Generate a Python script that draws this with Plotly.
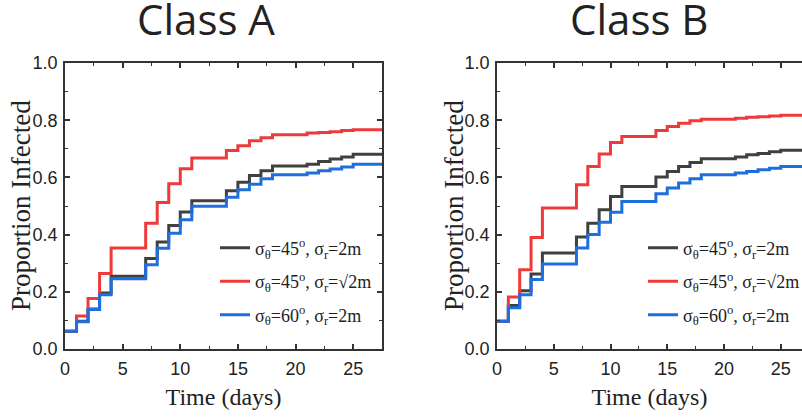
import plotly.graph_objects as go

# ---- data ----
step_days = [0, 1, 2, 3, 4, 7, 8, 9, 10, 11, 14, 15, 16, 17, 18, 21, 22, 23, 24, 25]

a_black = [0.062, 0.097, 0.140, 0.196, 0.254, 0.316, 0.374, 0.432, 0.479, 0.518,
           0.553, 0.583, 0.607, 0.623, 0.640, 0.646, 0.656, 0.664, 0.671, 0.681]
a_red = [0.062, 0.115, 0.177, 0.264, 0.353, 0.440, 0.512, 0.578, 0.630, 0.668,
         0.694, 0.711, 0.728, 0.739, 0.749, 0.755, 0.757, 0.760, 0.764, 0.767]
a_blue = [0.062, 0.095, 0.138, 0.190, 0.246, 0.295, 0.352, 0.405, 0.452, 0.499,
          0.531, 0.557, 0.576, 0.595, 0.609, 0.615, 0.623, 0.629, 0.636, 0.646]

b_black = [0.097, 0.152, 0.204, 0.262, 0.336, 0.392, 0.440, 0.487, 0.533, 0.568,
           0.601, 0.621, 0.638, 0.652, 0.665, 0.671, 0.679, 0.684, 0.690, 0.695]
b_red = [0.097, 0.182, 0.277, 0.390, 0.493, 0.574, 0.638, 0.682, 0.722, 0.743,
         0.764, 0.778, 0.789, 0.798, 0.803, 0.807, 0.810, 0.812, 0.815, 0.817]
b_blue = [0.097, 0.144, 0.190, 0.243, 0.297, 0.353, 0.400, 0.443, 0.478, 0.516,
          0.543, 0.563, 0.580, 0.595, 0.609, 0.615, 0.621, 0.627, 0.632, 0.638]

series_names = [
    "σ<sub>θ</sub>=45<sup>o</sup>, σ<sub>r</sub>=2m",
    "σ<sub>θ</sub>=45<sup>o</sup>, σ<sub>r</sub>=√2m",
    "σ<sub>θ</sub>=60<sup>o</sup>, σ<sub>r</sub>=2m",
]
colors = ["#404040", "#EE3A3A", "#1F6EDD"]
panel_titles = ["Class A", "Class B"]
x_title = "Time (days)"
y_title = "Proportion Infected"
x_ticks = [0, 5, 10, 15, 20, 25]
y_ticks = [0.0, 0.2, 0.4, 0.6, 0.8, 1.0]
end_day = 28  # hold last value to the end of the axis

W, H = 802, 417
fig = go.Figure()

panels = [
    ([a_black, a_red, a_blue], "x", "y", "legend"),
    ([b_black, b_red, b_blue], "x2", "y2", "legend2"),
]
for series, xa, ya, lg in panels:
    for i, vals in enumerate(series):
        fig.add_trace(go.Scatter(
            x=step_days + [end_day], y=vals + [vals[-1]],
            mode="lines", line=dict(shape="hv", color=colors[i], width=3),
            name=series_names[i], xaxis=xa, yaxis=ya, legend=lg,
            legendgroup=f"{lg}{i}",
        ))

axis_col = "#333333"
serif = "Liberation Serif, Times New Roman, serif"
tick_font = dict(family="Liberation Sans, Arial", size=18, color="#222222")
title_font = dict(family=serif, size=24, color="#222222")

def xaxis(domain, rng, anchor):
    return dict(domain=domain, range=rng, anchor=anchor, tickvals=x_ticks,
                ticks="inside", ticklen=5, tickwidth=1.5, tickcolor=axis_col,
                minor=dict(dtick=2.5, tick0=0, ticks="inside", ticklen=3, tickwidth=1, tickcolor=axis_col),
                showline=True, linecolor=axis_col, linewidth=1.5, mirror="ticks",
                showgrid=False, zeroline=False, tickfont=tick_font, automargin=False,
                ticklabelstandoff=3,
                title=dict(text=x_title, font=title_font, standoff=10))

def yaxis(anchor, mirror):
    return dict(domain=[0, 1], range=[0, 1], anchor=anchor, tickvals=y_ticks,
                tickformat=".1f",
                ticks="inside", ticklen=5, tickwidth=1.5, tickcolor=axis_col,
                minor=dict(dtick=0.1, tick0=0, ticks="inside", ticklen=3, tickwidth=1, tickcolor=axis_col),
                showline=True, linecolor=axis_col, linewidth=1.5, mirror=mirror,
                showgrid=False, zeroline=False, tickfont=tick_font, automargin=False,
                ticklabelstandoff=2)

legend_font = dict(family=serif, size=18, color="#222222")
left_x0, left_x1 = 65, 382
right_x0 = 497
plot_top, plot_bot = 63, 349.5

fig.update_layout(
    width=W, height=H,
    margin=dict(l=0, r=0, t=plot_top, b=H - plot_bot, autoexpand=False),
    paper_bgcolor="white", plot_bgcolor="white",
    xaxis=xaxis([left_x0 / W, left_x1 / W], [0, 27.5], "y"),
    yaxis=yaxis("x", "ticks"),
    xaxis2=xaxis([right_x0 / W, 1.0], [0, (W - right_x0) / 11.35], "y2"),
    yaxis2=yaxis("x2", False),
    legend=dict(x=215 / W, y=(H - 243) / H, xanchor="left", yanchor="top",
                bgcolor="rgba(0,0,0,0)", tracegroupgap=7, font=legend_font),
    legend2=dict(x=643 / W, y=(H - 243) / H, xanchor="left", yanchor="top",
                 bgcolor="rgba(0,0,0,0)", tracegroupgap=7, font=legend_font),
    showlegend=True,
)

# y-axis titles
for cx in [21, 454]:
    fig.add_annotation(text=y_title, x=cx / W, y=0.5, xref="paper", yref="paper",
                       xanchor="center", yanchor="middle", textangle=-90, showarrow=False,
                       font=dict(family=serif, size=27, color="#222222"))

for cx, txt in zip([205.5, 639], panel_titles):
    fig.add_annotation(text=txt, x=cx / W, y=1.0, xref="paper", yref="paper",
                       xanchor="center", yanchor="middle", showarrow=False, yshift=44.5,
                       font=dict(family="Open Sans, Noto Sans, sans-serif", size=42, color="#222222"))

fig.write_html("out.html", config={"displayModeBar": False},
               post_script="document.body.style.margin='0px';")
